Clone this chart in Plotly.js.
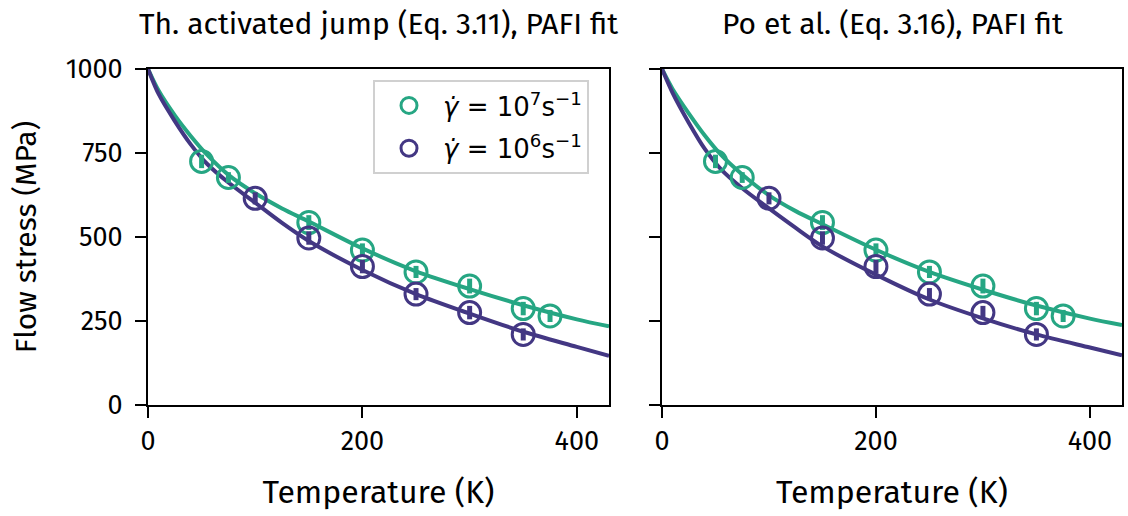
<!DOCTYPE html>
<html>
<head>
<meta charset="utf-8">
<script src="https://cdn.plot.ly/plotly-3.0.1.min.js"></script>
<style>html,body{margin:0;padding:0;background:#fff;}#chart{width:1128px;height:516px;}</style>
</head>
<body>
<div id="chart"></div>
<script>
// ---- data ----
const panelTitles = ["Th. activated jump (Eq. 3.11), PAFI fit", "Po et al. (Eq. 3.16), PAFI fit"];
const seriesNames = ["<i>γ̇</i> = 10<sup>7</sup>s<sup>−1</sup>", "<i>γ̇</i> = 10<sup>6</sup>s<sup>−1</sup>"];

const tempHigh = [50, 75, 150, 200, 250, 300, 350, 375];          // 10^7 s^-1
const stressHigh = [725, 677, 543, 461, 396, 354, 287, 265];
const errHigh = [20, 16, 22, 20, 18, 22, 20, 18];

const tempLow = [100, 150, 200, 250, 300, 350];                    // 10^6 s^-1
const stressLow = [615, 497, 412, 330, 275, 210];
const errLow = [18, 20, 20, 18, 20, 18];

const fitTemp = [0, 10, 25, 40, 55, 75, 100, 125, 150, 200, 250, 300, 350, 400, 430];
// panel 1: thermally activated jump fit
const fitJumpHigh = [1000, 935, 862, 800, 745, 685, 630, 585, 546, 466, 398, 345, 297, 255, 234];
const fitJumpLow  = [1000, 925, 845, 775, 718, 662, 602, 542, 488, 402, 330, 272, 218, 173, 146];
// panel 2: Po et al. fit
const fitPoHigh = [1000, 940, 868, 802, 745, 686, 624, 577, 538, 462, 396, 343, 296, 257, 238];
const fitPoLow  = [1000, 928, 840, 762, 702, 645, 585, 527, 472, 388, 314, 258, 210, 171, 148];

const yTicks = [0, 250, 500, 750, 1000];
const xTicks = [0, 200, 400];

// ---- styling ----
const GREEN = '#26a683';
const PURPLE = '#433783';
const FONT = '"Fira Sans", "Noto Sans", "Open Sans", sans-serif';

function curve(x, y, color, xa, ya) {
  return {x: x, y: y, xaxis: xa, yaxis: ya, mode: 'lines', type: 'scatter',
    line: {color: color, width: 4, shape: 'spline', smoothing: 0.8},
    showlegend: false, hoverinfo: 'skip'};
}
function points(x, y, err, color, name, xa, ya, legend) {
  return {x: x, y: y, xaxis: xa, yaxis: ya, mode: 'markers', type: 'scatter', name: name,
    marker: {symbol: 'circle-open', size: 22, color: color, line: {width: 3, color: color}},
    error_y: {type: 'data', array: err, visible: true, thickness: 5, width: 0, color: color},
    showlegend: legend, legendgroup: name};
}

const traces = [
  curve(fitTemp, fitJumpHigh, GREEN, 'x', 'y'),
  curve(fitTemp, fitJumpLow, PURPLE, 'x', 'y'),
  points(tempHigh, stressHigh, errHigh, GREEN, seriesNames[0], 'x', 'y', true),
  points(tempLow, stressLow, errLow, PURPLE, seriesNames[1], 'x', 'y', true),
  curve(fitTemp, fitPoHigh, GREEN, 'x2', 'y2'),
  curve(fitTemp, fitPoLow, PURPLE, 'x2', 'y2'),
  points(tempHigh, stressHigh, errHigh, GREEN, seriesNames[0], 'x2', 'y2', false),
  points(tempLow, stressLow, errLow, PURPLE, seriesNames[1], 'x2', 'y2', false)
];

const W = 1128, H = 516;
const axCommon = {
  showline: true, mirror: true, linecolor: '#000', linewidth: 2,
  ticks: 'outside', ticklen: 11, tickwidth: 2, tickcolor: '#000',
  showgrid: false, zeroline: false, automargin: false,
  tickfont: {family: FONT, size: 27, color: '#000'}
};

const layout = {
  width: W, height: H,
  margin: {l: 0, r: 0, t: 0, b: 0},
  paper_bgcolor: '#fff', plot_bgcolor: '#fff',
  font: {family: FONT, color: '#000'},
  xaxis: Object.assign({}, axCommon, {
    domain: [148 / W, 609 / W], range: [0, 430], tickvals: xTicks, anchor: 'y',
    title: {text: 'Temperature (K)', font: {family: FONT, size: 32, color: '#000'}, standoff: 24}
  }),
  yaxis: Object.assign({}, axCommon, {
    domain: [1 - 405 / H, 1 - 69 / H], range: [0, 1000], tickvals: yTicks, anchor: 'x',
    ticklabelstandoff: 7,
    title: {text: 'Flow stress (MPa)', font: {family: FONT, size: 30, color: '#000'}, standoff: 20}
  }),
  xaxis2: Object.assign({}, axCommon, {
    domain: [662 / W, 1122 / W], range: [0, 430], tickvals: xTicks, anchor: 'y2',
    title: {text: 'Temperature (K)', font: {family: FONT, size: 32, color: '#000'}, standoff: 24}
  }),
  yaxis2: Object.assign({}, axCommon, {
    domain: [1 - 405 / H, 1 - 69 / H], range: [0, 1000], tickvals: yTicks, anchor: 'x2',
    showticklabels: false
  }),
  legend: {
    x: 373 / W, y: 1 - 80 / H, xanchor: 'left', yanchor: 'top',
    bgcolor: 'rgba(255,255,255,0.9)', bordercolor: '#d0d0d0', borderwidth: 2,
    font: {family: '"DejaVu Sans", sans-serif', size: 26, color: '#000'},
    itemwidth: 58, tracegroupgap: 6
  },
  annotations: [
    {text: panelTitles[0], xref: 'paper', yref: 'paper', x: (148 + 609) / 2 / W, y: 1 - 24 / H,
     xanchor: 'center', yanchor: 'middle', showarrow: false, font: {family: FONT, size: 30, color: '#000'}},
    {text: panelTitles[1], xref: 'paper', yref: 'paper', x: (662 + 1122) / 2 / W, y: 1 - 24 / H,
     xanchor: 'center', yanchor: 'middle', showarrow: false, font: {family: FONT, size: 30, color: '#000'}}
  ]
};

Plotly.newPlot('chart', traces, layout, {staticPlot: true, displayModeBar: false});
</script>
</body>
</html>
